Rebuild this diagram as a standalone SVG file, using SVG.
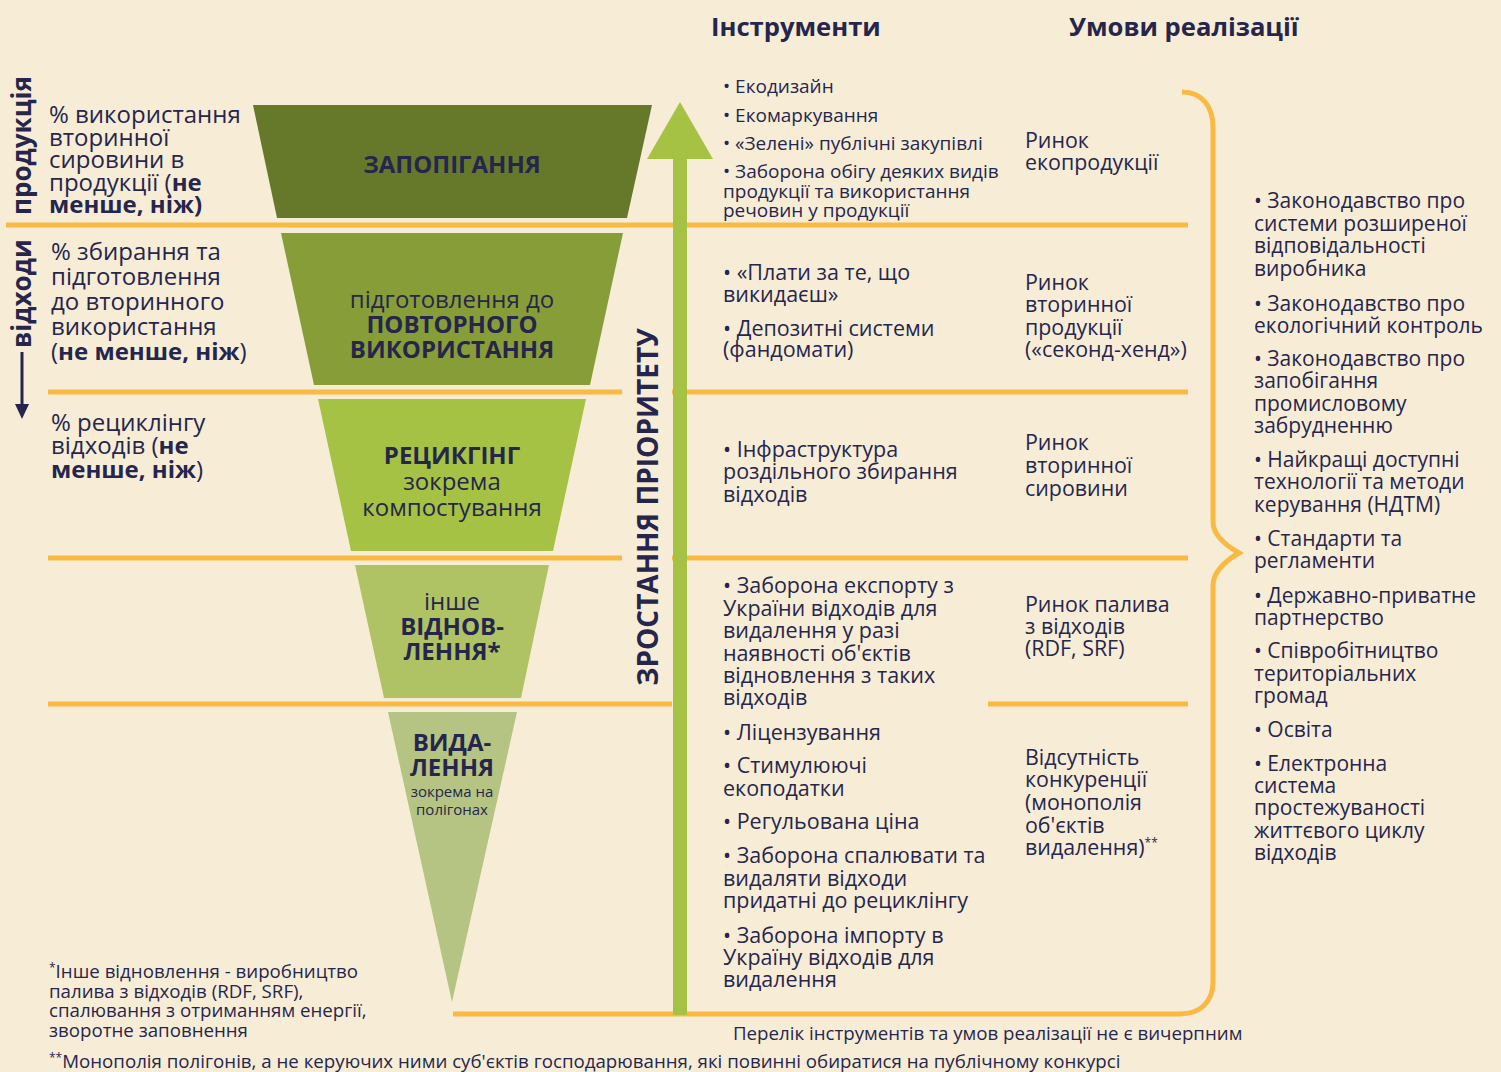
<svg xmlns="http://www.w3.org/2000/svg" width="1501" height="1072" viewBox="0 0 1501 1072">
<style>
text{font-family:"Open Sans","Noto Sans","Liberation Sans",sans-serif;fill:#26264C}
.lt{font-size:24px}
.b{font-weight:700}
.hd{font-size:25.6px;font-weight:700}
.vt{font-size:26px;font-weight:700}
.fn{font-size:24px;text-anchor:middle}
.fs{font-size:15px;text-anchor:middle}
.i1{font-size:19px}
.i2{font-size:21.5px}
.c{font-size:21.4px}
.r{font-size:21px}
.ft{font-size:18.7px}
.ol{stroke:#F9B943;stroke-width:5;fill:none}
</style>
<rect x="0" y="0" width="1501" height="1072" fill="#F7EDD7"/>

<g id="connectors">
<line class="ol" x1="6" y1="225" x2="1188" y2="225"/>
<line class="ol" x1="48" y1="392" x2="622" y2="392"/>
<line class="ol" x1="672" y1="392" x2="1188" y2="392"/>
<line class="ol" x1="48" y1="558" x2="622" y2="558"/>
<line class="ol" x1="672" y1="558" x2="1188" y2="558"/>
<line class="ol" x1="48" y1="704" x2="672" y2="704"/>
<line class="ol" x1="988" y1="704" x2="1188" y2="704"/>
<path class="ol" d="M1182,92 C1202,92 1213,106 1213,128 L1213,522 Q1213,538 1239,553 Q1213,568 1213,586 L1213,982 C1213,1002 1200,1014 1180,1014 L453,1014"/>
<line x1="22" y1="352" x2="22" y2="406" stroke="#26264C" stroke-width="3"/>
<polygon points="15,404 29,404 22,419" fill="#26264C"/>
</g>

<g id="header-instruments"><text class="hd" x="711" y="36">Інструменти</text></g>
<g id="header-conditions"><text class="hd" x="1069" y="36">Умови реалізації</text></g>

<g id="label-production"><text class="vt" transform="translate(31,215) rotate(-90)">продукція</text></g>
<g id="label-waste"><text class="vt" transform="translate(31,348) rotate(-90)">відходи</text></g>

<g id="target-1">
<text class="lt" x="49" y="123">% використання</text>
<text class="lt" x="49" y="145.5">вторинної</text>
<text class="lt" x="49" y="168">сировини в</text>
<text class="lt" x="49" y="190.5">продукції (<tspan class="b">не</tspan></text>
<text class="lt b" x="49" y="213">менше, ніж)</text>
</g>
<g id="target-2">
<text class="lt" x="51" y="260">% збирання та</text>
<text class="lt" x="51" y="285">підготовлення</text>
<text class="lt" x="51" y="310">до вторинного</text>
<text class="lt" x="51" y="335">використання</text>
<text class="lt" x="51" y="360">(<tspan class="b">не менше, ніж</tspan>)</text>
</g>
<g id="target-3">
<text class="lt" x="51" y="431">% рециклінгу</text>
<text class="lt" x="51" y="454">відходів (<tspan class="b">не</tspan></text>
<text class="lt" x="51" y="478"><tspan class="b">менше, ніж</tspan>)</text>
</g>

<g id="level-prevention">
<polygon points="253,105 652,105 627,218 277,218" fill="#66792B"/>
<text class="fn b" x="452" y="173">ЗАПОПІГАННЯ</text>
</g>
<g id="level-reuse">
<polygon points="281,233 623,233 590,385 314,385" fill="#879E38"/>
<text class="fn" x="452" y="308">підготовлення до</text>
<text class="fn b" x="452" y="333">ПОВТОРНОГО</text>
<text class="fn b" x="452" y="358">ВИКОРИСТАННЯ</text>
</g>
<g id="level-recycling">
<polygon points="318,399 586,399 553,551 351,551" fill="#A5C244"/>
<text class="fn b" x="452" y="464">РЕЦИКГІНГ</text>
<text class="fn" x="452" y="490">зокрема</text>
<text class="fn" x="452" y="516">компостування</text>
</g>
<g id="level-recovery">
<polygon points="355,565 549,565 521,698 384,698" fill="#AFC264"/>
<text class="fn" x="452" y="610">інше</text>
<text class="fn b" x="452" y="635">ВІДНОВ-</text>
<text class="fn b" x="452" y="660">ЛЕННЯ*</text>
</g>
<g id="level-disposal">
<polygon points="388,712 517,712 452,1002" fill="#B5C482"/>
<text class="fn b" x="452" y="751">ВИДА-</text>
<text class="fn b" x="452" y="776">ЛЕННЯ</text>
<text class="fs" x="452" y="797">зокрема на</text>
<text class="fs" x="452" y="815">полігонах</text>
</g>

<g id="priority-arrow">
<rect x="673" y="155" width="14" height="860" fill="#A5C244"/>
<polygon points="680,102 713,159 647,159" fill="#A5C244"/>
<text class="b" font-size="28" text-anchor="middle" transform="translate(658,507) rotate(-90)">ЗРОСТАННЯ ПРІОРИТЕТУ</text>
</g>

<g id="instruments-1">
<text class="i1" x="723" y="93">• Екодизайн</text>
<text class="i1" x="723" y="122">• Екомаркування</text>
<text class="i1" x="723" y="150">• «Зелені» публічні закупівлі</text>
<text class="i1" x="723" y="178">• Заборона обігу деяких видів</text>
<text class="i1" x="723" y="198">продукції та використання</text>
<text class="i1" x="723" y="217">речовин у продукції</text>
</g>
<g id="market-1">
<text class="c" x="1025" y="148">Ринок</text>
<text class="c" x="1025" y="170">екопродукції</text>
</g>

<g id="instruments-2">
<text class="i2" x="723" y="280">• «Плати за те, що</text>
<text class="i2" x="723" y="302">викидаєш»</text>
<text class="i2" x="723" y="336">• Депозитні системи</text>
<text class="i2" x="723" y="357">(фандомати)</text>
</g>
<g id="market-2">
<text class="c" x="1025" y="290">Ринок</text>
<text class="c" x="1025" y="312">вторинної</text>
<text class="c" x="1025" y="335">продукції</text>
<text class="c" x="1025" y="357">(«секонд-хенд»)</text>
</g>

<g id="instruments-3">
<text class="i2" x="723" y="457">• Інфраструктура</text>
<text class="i2" x="723" y="479">роздільного збирання</text>
<text class="i2" x="723" y="502">відходів</text>
</g>
<g id="market-3">
<text class="c" x="1025" y="450">Ринок</text>
<text class="c" x="1025" y="473">вторинної</text>
<text class="c" x="1025" y="496">сировини</text>
</g>

<g id="instruments-4">
<text class="i2" x="723" y="593">• Заборона експорту з</text>
<text class="i2" x="723" y="616">України відходів для</text>
<text class="i2" x="723" y="638">видалення у разі</text>
<text class="i2" x="723" y="661">наявності об'єктів</text>
<text class="i2" x="723" y="683">відновлення з таких</text>
<text class="i2" x="723" y="705">відходів</text>
</g>
<g id="market-4">
<text class="c" x="1025" y="612">Ринок палива</text>
<text class="c" x="1025" y="634">з відходів</text>
<text class="c" x="1025" y="656">(RDF, SRF)</text>
</g>

<g id="instruments-5">
<text class="i2" x="723" y="740">• Ліцензування</text>
<text class="i2" x="723" y="773">• Стимулюючі</text>
<text class="i2" x="723" y="796">екоподатки</text>
<text class="i2" x="723" y="829">• Регульована ціна</text>
<text class="i2" x="723" y="863">• Заборона спалювати та</text>
<text class="i2" x="723" y="886">видаляти відходи</text>
<text class="i2" x="723" y="908">придатні до рециклінгу</text>
<text class="i2" x="723" y="943">• Заборона імпорту в</text>
<text class="i2" x="723" y="965">Україну відходів для</text>
<text class="i2" x="723" y="987">видалення</text>
</g>
<g id="market-5">
<text class="c" x="1025" y="765">Відсутність</text>
<text class="c" x="1025" y="787">конкуренції</text>
<text class="c" x="1025" y="810">(монополія</text>
<text class="c" x="1025" y="833">об'єктів</text>
<text class="c" x="1025" y="855">видалення)<tspan font-size="12" dy="-8">**</tspan></text>
</g>

<g id="conditions">
<text class="r" x="1254" y="208">• Законодавство про</text>
<text class="r" x="1254" y="231">системи розширеної</text>
<text class="r" x="1254" y="253">відповідальності</text>
<text class="r" x="1254" y="276">виробника</text>
<text class="r" x="1254" y="311">• Законодавство про</text>
<text class="r" x="1254" y="333">екологічний контроль</text>
<text class="r" x="1254" y="366">• Законодавство про</text>
<text class="r" x="1254" y="388">запобігання</text>
<text class="r" x="1254" y="411">промисловому</text>
<text class="r" x="1254" y="433">забрудненню</text>
<text class="r" x="1254" y="467">• Найкращі доступні</text>
<text class="r" x="1254" y="489">технології та методи</text>
<text class="r" x="1254" y="512">керування (НДТМ)</text>
<text class="r" x="1254" y="546">• Стандарти та</text>
<text class="r" x="1254" y="568">регламенти</text>
<text class="r" x="1254" y="603">• Державно-приватне</text>
<text class="r" x="1254" y="625">партнерство</text>
<text class="r" x="1254" y="658">• Співробітництво</text>
<text class="r" x="1254" y="681">територіальних</text>
<text class="r" x="1254" y="703">громад</text>
<text class="r" x="1254" y="737">• Освіта</text>
<text class="r" x="1254" y="771">• Електронна</text>
<text class="r" x="1254" y="793">система</text>
<text class="r" x="1254" y="815">простежуваності</text>
<text class="r" x="1254" y="838">життєвого циклу</text>
<text class="r" x="1254" y="860">відходів</text>
</g>

<g id="footnotes">
<text class="ft" x="49" y="978"><tspan font-size="12" dy="-6">*</tspan><tspan dy="6">Інше відновлення - виробництво</tspan></text>
<text class="ft" x="49" y="998">палива з відходів (RDF, SRF),</text>
<text class="ft" x="49" y="1017">спалювання з отриманням енергії,</text>
<text class="ft" x="49" y="1037">зворотне заповнення</text>
<text class="ft" x="733" y="1040">Перелік інструментів та умов реалізації не є вичерпним</text>
<text class="ft" x="49" y="1068"><tspan font-size="12" dy="-6">**</tspan><tspan dy="6">Монополія полігонів, а не керуючих ними суб'єктів господарювання, які повинні обиратися на публічному конкурсі</tspan></text>
</g>
</svg>
